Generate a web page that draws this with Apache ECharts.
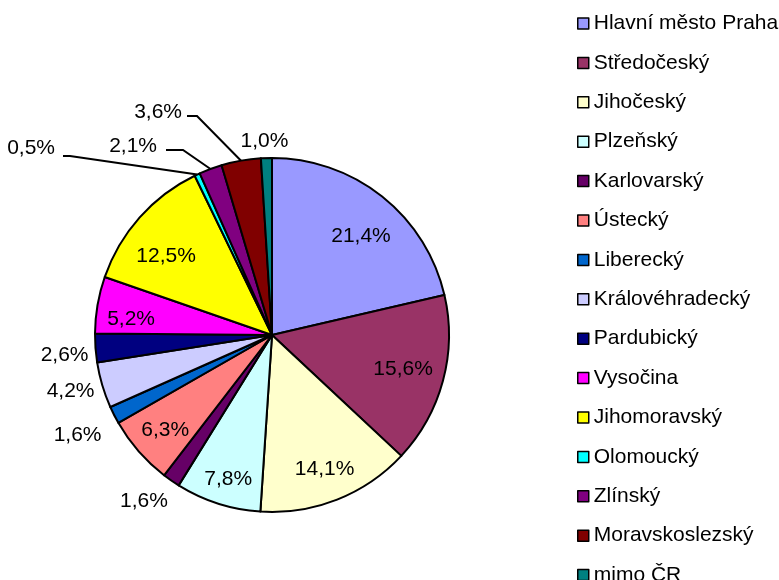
<!DOCTYPE html>
<html>
<head>
<meta charset="utf-8">
<script src="https://cdn.jsdelivr.net/npm/echarts@6/dist/echarts.min.js"></script>
<style>
  html, body { margin: 0; padding: 0; background: #fff; }
  #chart { width: 779px; height: 580px; }
</style>
</head>
<body>
<div id="chart"></div>
<script>
const regions = [
  'Hlavní město Praha', 'Středočeský', 'Jihočeský', 'Plzeňský', 'Karlovarský',
  'Ústecký', 'Liberecký', 'Královéhradecký', 'Pardubický', 'Vysočina',
  'Jihomoravský', 'Olomoucký', 'Zlínský', 'Moravskoslezský', 'mimo ČR'
];
const shares = [21.4, 15.6, 14.1, 7.8, 1.6, 6.3, 1.6, 4.2, 2.6, 5.2, 12.5, 0.5, 2.1, 3.6, 1.0];
const sliceColors = [
  '#9999FF', '#993366', '#FFFFCC', '#CCFFFF', '#660066',
  '#FF8080', '#0066CC', '#CCCCFF', '#000080', '#FF00FF',
  '#FFFF00', '#00FFFF', '#800080', '#800000', '#008080'
];

const font = '"Liberation Sans", Arial, sans-serif';
const center = [272, 335];
const R = 177;
const fmt = p => p.value.toFixed(1).replace('.', ',') + '%';
const labelText = { formatter: fmt, color: '#000', fontSize: 21, fontFamily: font };

// labels that hang on a leader line: text anchor (right/middle), line y, elbow x, line end x
const leaders = {
  'Olomoucký':       { x: 55,  y: 148, ly: 156, turn: 70,  end: 63 },
  'Zlínský':         { x: 157, y: 146, ly: 150, turn: 183, end: 166 },
  'Moravskoslezský': { x: 182, y: 112, ly: 116, turn: 197, end: 187 }
};
// small shifts of ring labels, Excel does not keep them exactly on the mid ray
const nudge = {
  'Hlavní město Praha': [0, 13], 'Středočeský': [-7, -3], 'Jihočeský': [0, 1],
  'Plzeňský': [0, 8], 'Ústecký': [1, 1], 'Vysočina': [0, 9], 'Jihomoravský': [1, 16],
  'Karlovarský': [-9, -6], 'Liberecký': [-8, 6], 'Královéhradecký': [-1, -3],
  'Pardubický': [1, 5], 'mimo ČR': [-1, 15]
};

const pieData = regions.map((name, i) => {
  const item = { name, value: shares[i], itemStyle: { color: sliceColors[i] } };
  if (leaders[name]) {
    item.label = { show: true, position: 'outside' };
    item.labelLine = { show: true };
  }
  return item;
});

// invisible rings that only carry centred labels at a chosen radius
function labelRing(radius, names) {
  return {
    type: 'pie',
    center,
    radius,
    silent: true,
    avoidLabelOverlap: false,
    itemStyle: { color: 'rgba(0,0,0,0)', borderWidth: 0 },
    emphasis: { disabled: true },
    labelLine: { show: false },
    label: Object.assign({ position: 'inside' }, labelText),
    labelLayout: p => {
      const d = nudge[regions[p.dataIndex]];
      return d ? { dx: d[0], dy: d[1] } : {};
    },
    data: regions.map((name, i) => ({
      name, value: shares[i], label: { show: names.includes(name) }
    }))
  };
}

const chart = echarts.init(document.getElementById('chart'));
chart.setOption({
  animation: false,
  backgroundColor: '#fff',
  legend: {
    orient: 'vertical',
    left: 577,
    top: 13,
    height: 640,
    padding: 0,
    icon: 'rect',
    itemWidth: 11,
    itemHeight: 11,
    itemGap: 18.4,
    selectedMode: false,
    itemStyle: { borderColor: '#000', borderWidth: 1.5 },
    textStyle: { fontSize: 21, fontFamily: font, color: '#000' },
    data: regions
  },
  series: [
    {
      type: 'pie',
      center,
      radius: R,
      startAngle: 90,
      clockwise: true,
      avoidLabelOverlap: false,
      emphasis: { disabled: true },
      itemStyle: { borderColor: '#000', borderWidth: 2 },
      label: Object.assign({ show: false }, labelText),
      labelLine: { show: false, lineStyle: { color: '#000', width: 2 } },
      labelLayout: p => {
        const l = leaders[regions[p.dataIndex]];
        if (!l || !p.labelLinePoints) return {};
        return {
          x: l.x, y: l.y, align: 'right', verticalAlign: 'middle',
          labelLinePoints: [p.labelLinePoints[0], [l.turn, l.ly], [l.end, l.ly]]
        };
      },
      data: pieData
    },
    // 0.8 R ring for the labels inside the slices
    labelRing([103, R], ['Hlavní město Praha', 'Středočeský', 'Jihočeský', 'Plzeňský',
      'Ústecký', 'Vysočina', 'Jihomoravský']),
    // ring just outside the pie for the small slices
    labelRing([186, 226], ['Karlovarský', 'Liberecký', 'Královéhradecký', 'Pardubický', 'mimo ČR'])
  ]
});
</script>
</body>
</html>
